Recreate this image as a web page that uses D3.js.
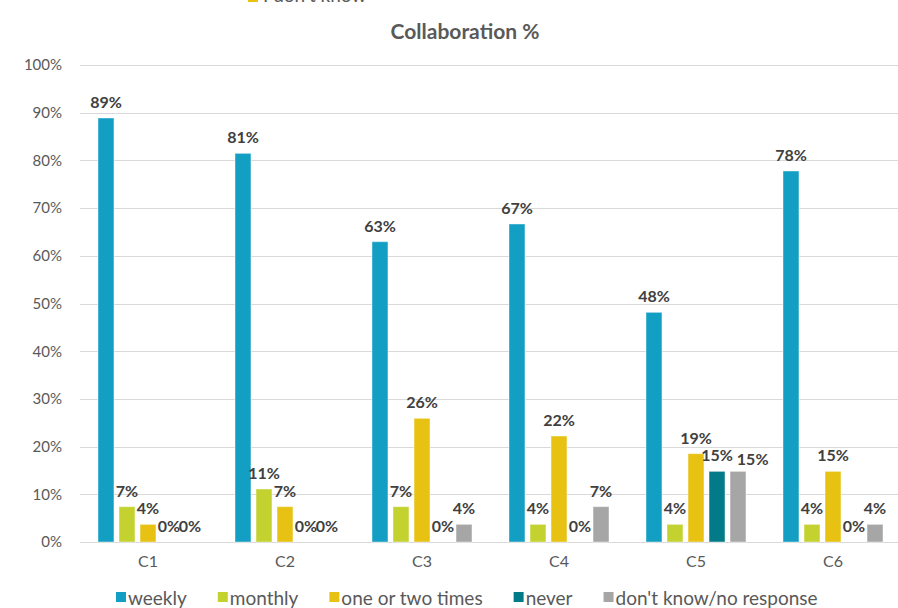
<!DOCTYPE html>
<html>
<head>
<meta charset="utf-8">
<script src="https://cdn.jsdelivr.net/npm/d3@7"></script>
<style>
  html, body { margin: 0; padding: 0; background: #ffffff; }
  svg { display: block; font-family: Lato, "Open Sans", sans-serif; }
</style>
</head>
<body>
<svg id="chart" width="898" height="608"></svg>
<script>
// Survey answers, share of respondents (%) per collaboration item
const categories = ["C1", "C2", "C3", "C4", "C5", "C6"];
const seriesNames = ["weekly", "monthly", "one or two times", "never", "don't know/no response"];
const weekly       = [88.89, 81.48, 62.96, 66.67, 48.15, 77.78];
const monthly      = [7.41, 11.11, 7.41, 3.70, 3.70, 3.70];
const oneOrTwo     = [3.70, 7.41, 25.93, 22.22, 18.52, 14.81];
const never        = [0, 0, 0, 0, 14.81, 0];
const dontKnow     = [0, 0, 3.70, 7.41, 14.81, 3.70];
const yTicks = [0, 10, 20, 30, 40, 50, 60, 70, 80, 90, 100];
const colors = ["#139ec3", "#c4d22f", "#e8c213", "#037a88", "#a6a6a6"];
const title = "Collaboration %";

const seriesValues = [weekly, monthly, oneOrTwo, never, dontKnow];
const rows = [];
categories.forEach((c, i) => {
  seriesNames.forEach((s, j) => rows.push({ cat: c, series: s, idx: j, value: seriesValues[j][i] }));
});

const svg = d3.select("#chart");
const textDark = "#404040";
const textGrey = "#595959";

const y = d3.scaleLinear().domain([0, 100]).range([542, 65]);
const x = d3.scaleBand().domain(categories).range([79.5, 901.5])
  .paddingInner(0.27).paddingOuter(0.135);
const xs = d3.scaleBand().domain(seriesNames).range([0, x.bandwidth()]).paddingInner(0.24);

// gridlines
svg.append("g").selectAll("line").data(yTicks).join("line")
  .attr("x1", 80).attr("x2", 898)
  .attr("y1", d => Math.round(y(d)) + 0.5).attr("y2", d => Math.round(y(d)) + 0.5)
  .attr("stroke", "#d9d9d9").attr("stroke-width", 1);

// y axis labels
const yAxis = d3.axisLeft(y).tickValues(yTicks).tickFormat(d => d + "%").tickSize(0).tickPadding(0);
const gy = svg.append("g").attr("transform", "translate(62,0)").call(yAxis);
gy.select(".domain").remove();
gy.selectAll("text").attr("fill", textGrey).style("font-size", "15px")
  .style("font-family", "Lato, sans-serif");

// x axis labels
const xAxis = d3.axisBottom(x).tickSize(0).tickPadding(0);
const gx = svg.append("g").attr("transform", "translate(0,556)").call(xAxis);
gx.select(".domain").remove();
gx.selectAll("text").attr("fill", textGrey).style("font-size", "16px")
  .style("font-family", "Lato, sans-serif");

// bars
const groups = svg.append("g").selectAll("g").data(categories).join("g")
  .attr("transform", d => `translate(${x(d)},0)`);
groups.selectAll("rect").data(c => rows.filter(r => r.cat === c && r.value > 0)).join("rect")
  .attr("x", d => xs(d.series))
  .attr("width", xs.bandwidth())
  .attr("y", d => y(d.value))
  .attr("height", d => y(0) - y(d.value))
  .attr("fill", d => colors[d.idx])
  .attr("stroke", "rgba(255,255,255,0.45)").attr("stroke-width", 1);

// value labels
groups.each(function () {
  const labels = d3.select(this).selectAll("text.value")
    .data(c => rows.filter(r => r.cat === c)).join("text")
    .attr("class", "value")
    .attr("x", d => xs(d.series) + xs.bandwidth() / 2)
    .attr("y", d => y(d.value) - 10)
    .attr("text-anchor", "middle")
    .attr("fill", textDark)
    .style("font-size", "16px").style("font-weight", "bold")
    .text(d => Math.round(d.value) + "%");
  // push a label to the right when it clearly collides with a neighbour on the same line
  let prev = null;
  labels.each(function () {
    const b = this.getBBox();
    const overlap = prev ? prev.x + prev.width - b.x : 0;
    if (prev && overlap > 6 && Math.abs(b.y - prev.y) < 10) {
      d3.select(this).attr("x", +d3.select(this).attr("x") + overlap + 4).attr("dy", 4);
      prev = this.getBBox();
    } else {
      prev = b;
    }
  });
});

// title
svg.append("text").attr("x", 465).attr("y", 39).attr("text-anchor", "middle")
  .attr("fill", textGrey).style("font-size", "21px").style("font-weight", "bold")
  .text(title);

// partially visible entry above the chart
svg.append("rect").attr("x", 248).attr("y", -8).attr("width", 10).attr("height", 10).attr("fill", colors[2]);
svg.append("text").attr("x", 263).attr("y", 2).attr("fill", textGrey)
  .style("font-size", "19px").text("I don't know");

// legend
const legend = svg.append("g");
let lx = 116;
seriesNames.forEach((s, j) => {
  legend.append("rect").attr("x", lx).attr("y", 592).attr("width", 10).attr("height", 10).attr("fill", colors[j]);
  const t = legend.append("text").attr("x", lx + 12).attr("y", 605).attr("fill", textGrey)
    .style("font-size", "19px").text(s);
  lx += 12 + t.node().getComputedTextLength() + 31;
});
</script>
</body>
</html>
